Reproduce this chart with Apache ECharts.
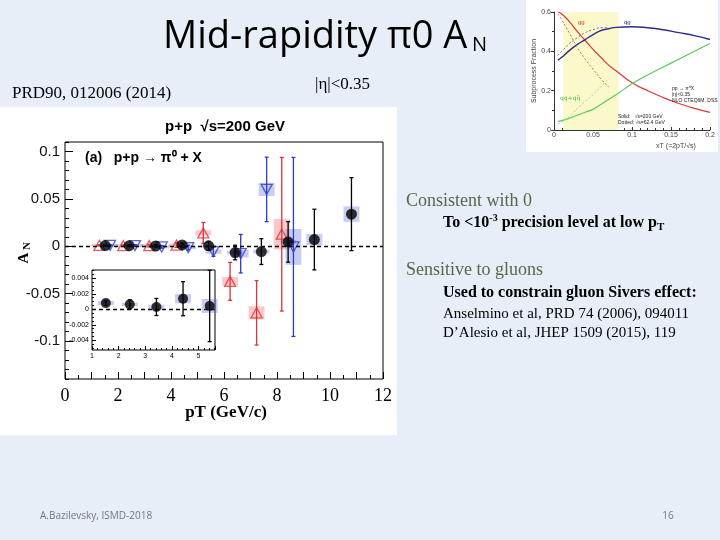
<!DOCTYPE html>
<html>
<head>
<meta charset="utf-8">
<script src="https://cdn.jsdelivr.net/npm/echarts@6/dist/echarts.min.js"></script>
<style>
html, body { margin: 0; padding: 0; background: #e8eef7; }
#main { width: 720px; height: 540px; }
</style>
</head>
<body>
<div id="main"></div>
<script>
// PHENIX pi0 A_N at mid-rapidity
// black circles (pT, AN, stat error, syst error)
var blackPt   = [1.52, 2.42, 3.42, 4.42, 5.42, 6.42, 7.41, 8.42, 9.41, 10.81];
var blackAn   = [0.0008, 0.00064, 0.0003, 0.00137, 0.00043, -0.0066, -0.0056, 0.0046, 0.0071, 0.0339];
var blackStat = [0.0003, 0.00058, 0.0011, 0.0022, 0.0046, 0.0077, 0.0136, 0.0214, 0.032, 0.0385];
var blackSys  = [0.00026, 0.0002, 0.0003, 0.0006, 0.0009, 0.002, 0.002, 0.002, 0.006, 0.0081];

// red up-triangles
var redPt   = [1.30, 2.20, 3.18, 4.21, 5.22, 6.23, 7.23, 8.18];
var redAn   = [0.001, 0.0006, 0.0006, 0.0013, 0.0141, -0.037, -0.0702, 0.0127];
var redStat = [0.0005, 0.0008, 0.0013, 0.0025, 0.011, 0.02, 0.034, 0.081];
var redSys  = [0.0005, 0.0005, 0.0005, 0.0012, 0.0028, 0.0046, 0.007, 0.016];

// blue down-triangles
var bluePt   = [1.70, 2.64, 3.65, 4.65, 5.60, 6.63, 7.61, 8.62];
var blueAn   = [0.001, 0.0008, -0.0007, -0.0014, -0.0056, -0.0078, 0.060, -0.0007];
var blueStat = [0.0005, 0.0008, 0.0013, 0.0025, 0.005, 0.0203, 0.034, 0.0944];
var blueSys  = [0.0005, 0.0005, 0.0006, 0.0012, 0.0023, 0.004, 0.0069, 0.0189];

// inset = first five black points
var insetCount = 5;

// subprocess fractions (top right figure)
var xt200 = [0.005, 0.01, 0.02, 0.03, 0.04, 0.05, 0.06, 0.07, 0.08, 0.1, 0.12, 0.14, 0.16, 0.18, 0.2];
var gg200 = [0.60, 0.59, 0.55, 0.50, 0.455, 0.41, 0.37, 0.33, 0.30, 0.24, 0.20, 0.165, 0.135, 0.11, 0.09];
var qg200 = [0.355, 0.37, 0.405, 0.435, 0.46, 0.485, 0.505, 0.515, 0.522, 0.525, 0.52, 0.51, 0.495, 0.48, 0.46];
var qq200 = [0.045, 0.048, 0.06, 0.075, 0.09, 0.105, 0.13, 0.155, 0.18, 0.235, 0.28, 0.32, 0.36, 0.40, 0.44];
var xt62 = [0.005, 0.01, 0.02, 0.03, 0.04, 0.05, 0.06, 0.07];
var gg62 = [0.59, 0.56, 0.49, 0.42, 0.36, 0.31, 0.26, 0.22];
var qg62 = [0.38, 0.40, 0.44, 0.47, 0.495, 0.51, 0.52, 0.52];
var qq62 = [0.03, 0.04, 0.07, 0.11, 0.145, 0.18, 0.22, 0.26];

var yLabels = [-0.1, -0.05, 0, 0.05, 0.1];
var xLabels = [0, 2, 4, 6, 8, 10, 12];
var insetXLabels = [1, 2, 3, 4, 5];
var insetYLabels = [-0.004, -0.002, 0, 0.002, 0.004];

var serif = '"Liberation Serif", "Times New Roman", serif';
var sans = '"Liberation Sans", Arial, sans-serif';

function steps(from, to, step) {
    var out = [];
    for (var v = from; v <= to + 1e-9; v += step) out.push(+v.toFixed(6));
    return out;
}
function zip3(a, b, c, n) {
    var out = [];
    for (var i = 0; i < (n || a.length); i++) out.push([a[i], b[i], c[i]]);
    return out;
}
function zip2(a, b) {
    return a.map(function (v, i) { return [v, b[i]]; });
}

function errBars(color) {
    return function (params, api) {
        var x = api.value(0), y = api.value(1), e = api.value(2);
        var top = api.coord([x, y + e]), bot = api.coord([x, y - e]);
        var st = { stroke: color, lineWidth: 1.3 };
        return {
            type: 'group',
            children: [
                { type: 'line', shape: { x1: top[0], y1: top[1], x2: bot[0], y2: bot[1] }, style: st },
                { type: 'line', shape: { x1: top[0] - 2, y1: top[1], x2: top[0] + 2, y2: top[1] }, style: st },
                { type: 'line', shape: { x1: bot[0] - 2, y1: bot[1], x2: bot[0] + 2, y2: bot[1] }, style: st }
            ]
        };
    };
}
function sysBoxes(color) {
    return function (params, api) {
        var x = api.value(0), y = api.value(1), s = api.value(2);
        var a = api.coord([x - 0.3, y + s]), b = api.coord([x + 0.3, y - s]);
        var h = Math.max(b[1] - a[1], 3);
        return {
            type: 'rect',
            shape: { x: a[0], y: (a[1] + b[1]) / 2 - h / 2, width: b[0] - a[0], height: h },
            style: { fill: color }
        };
    };
}

var blueBox = 'rgba(70,90,220,0.30)';
var redBox = 'rgba(240,80,80,0.30)';
var redCol = '#e0303c';
var blueCol = '#2a3cc8';
var zeroLine = {
    silent: true, symbol: ['none', 'none'], label: { show: false },
    lineStyle: { color: '#000', type: [4, 3], width: 1.3 },
    data: [{ yAxis: 0 }]
};
var noLine = { show: false, onZero: false };

// plain text label on top of everything
function label(x, y, text, font, fill, align) {
    return { type: 'text', z: 100, x: x, y: y, style: { text: text, font: font, fill: fill || '#000', textAlign: align || 'left', textVerticalAlign: 'middle' } };
}

var myChart = echarts.init(document.getElementById('main'));

var option = {
    backgroundColor: '#e8eef7',
    animation: false,
    grid: [
        { left: 65, top: 142, width: 318, height: 237, show: true, borderColor: '#000', borderWidth: 1, backgroundColor: 'transparent' },
        { left: 92, top: 270, width: 123, height: 80, show: true, borderColor: '#000', borderWidth: 1, backgroundColor: '#fff' },
        { left: 554, top: 12, width: 156, height: 118, show: false }
    ],
    xAxis: [
        {
            gridIndex: 0, type: 'value', position: 'bottom', min: 0, max: 12, interval: 1,
            axisLine: noLine,
            axisTick: { inside: true, length: 7, lineStyle: { color: '#000' } },
            minorTick: { show: true, splitNumber: 2, length: 4, lineStyle: { color: '#000' } },
            splitLine: { show: false },
            axisLabel: { customValues: xLabels, fontFamily: serif, fontSize: 18, color: '#000', margin: 8 }
        },
        {
            gridIndex: 1, type: 'value', position: 'bottom', min: 1, max: 5.62, interval: 1,
            axisLine: noLine,
            axisTick: { inside: true, length: 4, lineStyle: { color: '#000' } },
            minorTick: { show: true, splitNumber: 5, length: 2, lineStyle: { color: '#000' } },
            splitLine: { show: false },
            axisLabel: { customValues: insetXLabels, fontFamily: sans, fontSize: 7, color: '#000', margin: 3 }
        },
        {
            gridIndex: 2, type: 'value', position: 'bottom', min: 0, max: 0.2, interval: 0.05,
            axisLine: { onZero: false, lineStyle: { color: '#333' } },
            axisTick: { inside: true, length: 3, lineStyle: { color: '#333' } },
            minorTick: { show: true, splitNumber: 5, length: 2, lineStyle: { color: '#333' } },
            splitLine: { show: false },
            axisLabel: { fontFamily: sans, fontSize: 7, color: '#444', margin: 2 }
        }
    ],
    yAxis: [
        {
            gridIndex: 0, type: 'value', position: 'left', min: -0.14, max: 0.11,
            axisLine: noLine,
            axisTick: { inside: true, length: 8, customValues: yLabels, lineStyle: { color: '#000' } },
            splitLine: { show: false },
            axisLabel: { customValues: yLabels, fontFamily: sans, fontSize: 15, color: '#111', margin: 5 }
        },
        {
            gridIndex: 0, type: 'value', position: 'left', min: -0.14, max: 0.11,
            axisLine: noLine,
            axisTick: { inside: true, length: 4, customValues: steps(-0.14, 0.11, 0.01), lineStyle: { color: '#000' } },
            splitLine: { show: false },
            axisLabel: { show: false }
        },
        {
            gridIndex: 1, type: 'value', position: 'left', min: -0.00525, max: 0.00507,
            axisLine: noLine,
            axisTick: { inside: true, length: 4, customValues: insetYLabels, lineStyle: { color: '#000' } },
            splitLine: { show: false },
            axisLabel: { customValues: insetYLabels, fontFamily: sans, fontSize: 7, color: '#000', margin: 3 }
        },
        {
            gridIndex: 1, type: 'value', position: 'left', min: -0.00525, max: 0.00507,
            axisLine: noLine,
            axisTick: { inside: true, length: 2, customValues: steps(-0.005, 0.005, 0.0005), lineStyle: { color: '#000' } },
            splitLine: { show: false },
            axisLabel: { show: false }
        },
        {
            gridIndex: 2, type: 'value', position: 'left', min: 0, max: 0.6, interval: 0.2,
            name: 'Subprocess Fraction', nameLocation: 'middle', nameGap: 14,
            nameTextStyle: { fontFamily: sans, fontSize: 7, color: '#444' },
            axisLine: { onZero: false, lineStyle: { color: '#333' } },
            axisTick: { length: 3, lineStyle: { color: '#333' } },
            minorTick: { show: true, splitNumber: 2, length: 2, lineStyle: { color: '#333' } },
            splitLine: { show: false },
            axisLabel: { fontFamily: sans, fontSize: 7, color: '#444', margin: 3 }
        }
    ],
    series: [
        // main plot: systematic boxes
        { type: 'custom', xAxisIndex: 0, yAxisIndex: 0, z: 2, renderItem: sysBoxes(redBox), data: zip3(redPt, redAn, redSys) },
        { type: 'custom', xAxisIndex: 0, yAxisIndex: 0, z: 2, renderItem: sysBoxes(blueBox), data: zip3(bluePt, blueAn, blueSys) },
        { type: 'custom', xAxisIndex: 0, yAxisIndex: 0, z: 2, renderItem: sysBoxes(blueBox), data: zip3(blackPt, blackAn, blackSys) },
        // statistical errors
        { type: 'custom', xAxisIndex: 0, yAxisIndex: 0, z: 3, renderItem: errBars(redCol), data: zip3(redPt, redAn, redStat) },
        { type: 'custom', xAxisIndex: 0, yAxisIndex: 0, z: 3, renderItem: errBars(blueCol), data: zip3(bluePt, blueAn, blueStat) },
        { type: 'custom', xAxisIndex: 0, yAxisIndex: 0, z: 3, renderItem: errBars('#000'), data: zip3(blackPt, blackAn, blackStat) },
        // markers
        {
            type: 'scatter', xAxisIndex: 0, yAxisIndex: 0, z: 4, symbol: 'triangle', symbolSize: [11, 10],
            itemStyle: { color: 'rgba(0,0,0,0)', borderColor: redCol, borderWidth: 1.3 },
            data: zip2(redPt, redAn)
        },
        {
            type: 'scatter', xAxisIndex: 0, yAxisIndex: 0, z: 4, symbol: 'triangle', symbolRotate: 180, symbolSize: [11, 10],
            itemStyle: { color: 'rgba(0,0,0,0)', borderColor: blueCol, borderWidth: 1.3 },
            data: zip2(bluePt, blueAn)
        },
        {
            type: 'scatter', xAxisIndex: 0, yAxisIndex: 0, z: 5, symbol: 'circle', symbolSize: 11,
            itemStyle: { color: '#000' },
            data: zip2(blackPt, blackAn),
            markLine: zeroLine
        },
        // inset
        { type: 'custom', xAxisIndex: 1, yAxisIndex: 2, z: 6, renderItem: sysBoxes(blueBox), data: zip3(blackPt, blackAn, blackSys, insetCount) },
        { type: 'custom', xAxisIndex: 1, yAxisIndex: 2, z: 7, renderItem: errBars('#000'), data: zip3(blackPt, blackAn, blackStat, insetCount) },
        {
            type: 'scatter', xAxisIndex: 1, yAxisIndex: 2, z: 8, symbol: 'circle', symbolSize: 10,
            itemStyle: { color: '#000' },
            data: zip2(blackPt.slice(0, insetCount), blackAn.slice(0, insetCount)),
            markLine: zeroLine
        },
        // subprocess fractions
        {
            type: 'line', xAxisIndex: 2, yAxisIndex: 4, smooth: true, showSymbol: false,
            lineStyle: { color: '#d83838', width: 1.2 }, data: zip2(xt200, gg200),
            markArea: { silent: true, itemStyle: { color: '#fbf8cc' }, data: [[{ xAxis: 0.012 }, { xAxis: 0.083 }]] }
        },
        { type: 'line', xAxisIndex: 2, yAxisIndex: 4, smooth: true, showSymbol: false, lineStyle: { color: '#2c2c8c', width: 1.4 }, data: zip2(xt200, qg200) },
        { type: 'line', xAxisIndex: 2, yAxisIndex: 4, smooth: true, showSymbol: false, lineStyle: { color: '#58cc58', width: 1.2 }, data: zip2(xt200, qq200) },
        { type: 'line', xAxisIndex: 2, yAxisIndex: 4, smooth: true, showSymbol: false, lineStyle: { color: '#c8704c', width: 1, type: [2, 2] }, data: zip2(xt62, gg62) },
        { type: 'line', xAxisIndex: 2, yAxisIndex: 4, smooth: true, showSymbol: false, lineStyle: { color: '#7070a8', width: 1, type: [2, 2] }, data: zip2(xt62, qg62) },
        { type: 'line', xAxisIndex: 2, yAxisIndex: 4, smooth: true, showSymbol: false, lineStyle: { color: '#98dc98', width: 1, type: [2, 2] }, data: zip2(xt62, qq62) }
    ],
    graphic: [
        // white picture backgrounds
        { type: 'rect', z: -10, shape: { x: 0, y: 107, width: 397, height: 328 }, style: { fill: '#fff' } },
        { type: 'rect', z: -10, shape: { x: 526, y: 0, width: 192, height: 152 }, style: { fill: '#fff' } },
        // slide title
        label(163, 37, 'Mid-rapidity π0 A', '38px "Open Sans", sans-serif'),
        label(472, 45, 'N', '20px "Open Sans", sans-serif'),
        label(12, 94, 'PRD90, 012006 (2014)', '17px ' + serif),
        label(315, 85, '|η|<0.35', '17px ' + serif),
        // plot titles
        label(225, 127, 'p+p  √s=200 GeV', 'bold 15px ' + sans, '#000', 'center'),
        label(85, 158, '(a)   p+p → π⁰ + X', 'bold 14px ' + sans),
        label(226, 413, 'pT (GeV/c)', 'bold 17px ' + serif, '#000', 'center'),
        { type: 'text', z: 100, x: 24, y: 258, rotation: Math.PI / 2, style: { text: 'A', font: 'bold 15px ' + serif, fill: '#000', textAlign: 'center', textVerticalAlign: 'middle' } },
        { type: 'text', z: 100, x: 27, y: 246, rotation: Math.PI / 2, style: { text: 'N', font: 'bold 11px ' + serif, fill: '#000', textAlign: 'center', textVerticalAlign: 'middle' } },
        // right-hand notes
        label(406, 201, 'Consistent with 0', '18px ' + serif, '#56684c'),
        {
            type: 'text', z: 100, x: 443, y: 223,
            style: {
                text: 'To <10{sup|-3} precision level at low p{sub|T}', font: 'bold 16px ' + serif, fill: '#000', lineHeight: 20, textVerticalAlign: 'middle',
                rich: {
                    sup: { fontFamily: serif, fontWeight: 'bold', fontSize: 10, lineHeight: 20, verticalAlign: 'top', padding: [0, 0, 6, 0] },
                    sub: { fontFamily: serif, fontWeight: 'bold', fontSize: 11, lineHeight: 20, verticalAlign: 'bottom', padding: [6, 0, 0, 0] }
                }
            }
        },
        label(406, 270, 'Sensitive to gluons', '18px ' + serif, '#56684c'),
        label(443, 293, 'Used to constrain gluon Sivers effect:', 'bold 16px ' + serif),
        label(443, 314, 'Anselmino et al, PRD 74 (2006), 094011', '15px ' + serif),
        label(443, 333, 'D’Alesio et al, JHEP 1509 (2015), 119', '15px ' + serif),
        // subprocess figure annotations
        label(578, 22, 'gg', '6px ' + sans, '#d83838'),
        label(624, 22, 'qg', '6px ' + sans, '#2c2c8c'),
        label(560, 98, 'qq+qq̄', '6px "DejaVu Sans", sans-serif', '#48c048'),
        label(672, 89, 'pp → π⁰X', '5px ' + sans, '#222'),
        label(672, 95, '|η|<0.35', '5px ' + sans, '#222'),
        label(672, 101, 'NLO CTEQ6M, DSS', '5px ' + sans, '#222'),
        label(618, 117, 'Solid:   √s=200 GeV', '5px ' + sans, '#222'),
        label(618, 123, 'Dotted: √s=62.4 GeV', '5px ' + sans, '#222'),
        label(676, 146, 'xT (=2pT/√s)', '7px ' + sans, '#444', 'center'),
        // footer
        label(40, 516, 'A.Bazilevsky, ISMD-2018', '10px "Open Sans", sans-serif', '#777'),
        label(668, 516, '16', '10px "Open Sans", sans-serif', '#777', 'center')
    ]
};

myChart.setOption(option);
</script>
</body>
</html>
